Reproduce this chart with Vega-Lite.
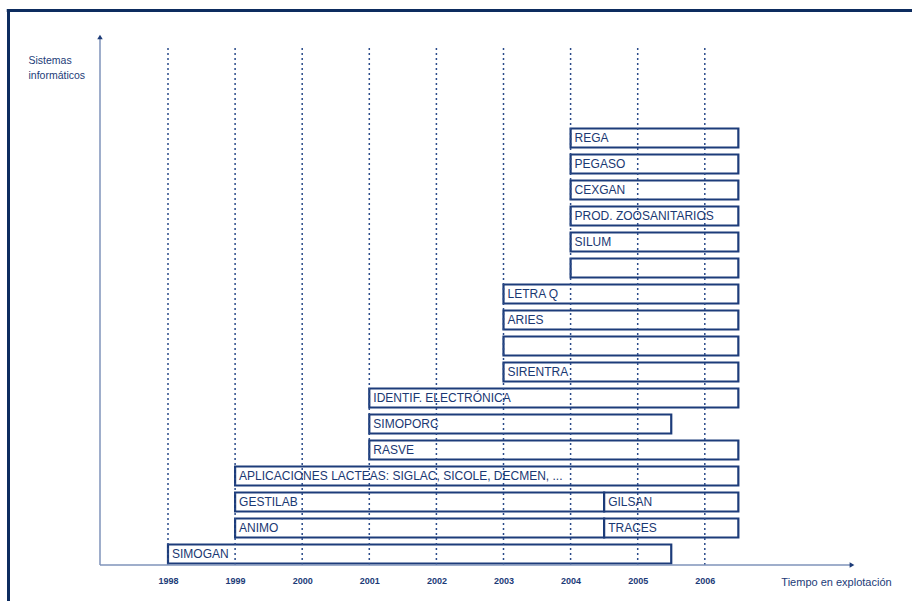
{
  "$schema": "https://vega.github.io/schema/vega-lite/v6.json",
  "width": 912,
  "height": 601,
  "autosize": {"type": "none"},
  "padding": 0,
  "background": "white",
  "config": {"view": {"stroke": null}, "font": "Liberation Sans"},
  "datasets": {
    "bars": [
      {"row": 1, "label": "SIMOGAN", "start": 1998, "end": 2005.5},
      {"row": 2, "label": "ANIMO", "start": 1999, "end": 2004.5},
      {"row": 2, "label": "TRACES", "start": 2004.5, "end": 2006.5},
      {"row": 3, "label": "GESTILAB", "start": 1999, "end": 2004.5},
      {"row": 3, "label": "GILSAN", "start": 2004.5, "end": 2006.5},
      {"row": 4, "label": "APLICACIONES LACTEAS: SIGLAC, SICOLE, DECMEN, ...", "start": 1999, "end": 2006.5},
      {"row": 5, "label": "RASVE", "start": 2001, "end": 2006.5},
      {"row": 6, "label": "SIMOPORC", "start": 2001, "end": 2005.5},
      {"row": 7, "label": "IDENTIF. ELECTRÓNICA", "start": 2001, "end": 2006.5},
      {"row": 8, "label": "SIRENTRA", "start": 2003, "end": 2006.5},
      {"row": 9, "label": "", "start": 2003, "end": 2006.5},
      {"row": 10, "label": "ARIES", "start": 2003, "end": 2006.5},
      {"row": 11, "label": "LETRA Q", "start": 2003, "end": 2006.5},
      {"row": 12, "label": "", "start": 2004, "end": 2006.5},
      {"row": 13, "label": "SILUM", "start": 2004, "end": 2006.5},
      {"row": 14, "label": "PROD. ZOOSANITARIOS", "start": 2004, "end": 2006.5},
      {"row": 15, "label": "CEXGAN", "start": 2004, "end": 2006.5},
      {"row": 16, "label": "PEGASO", "start": 2004, "end": 2006.5},
      {"row": 17, "label": "REGA", "start": 2004, "end": 2006.5}
    ],
    "years": [
      {"year": 1998}, {"year": 1999}, {"year": 2000}, {"year": 2001}, {"year": 2002},
      {"year": 2003}, {"year": 2004}, {"year": 2005}, {"year": 2006}
    ]
  },
  "layer": [
    {
      "data": {"name": "bars"},
      "mark": {"type": "bar", "orient": "horizontal", "size": 19, "fill": "white", "stroke": "#1d3c7a", "strokeWidth": 2.2},
      "encoding": {
        "x": {
          "field": "start", "type": "quantitative",
          "scale": {"domain": [1995.49627, 2009.08792], "nice": false, "zero": false, "padding": 0},
          "axis": {
            "values": [1998, 1999, 2000, 2001, 2002, 2003, 2004, 2005, 2006],
            "format": "d", "offset": -36, "domain": false, "ticks": false, "grid": false,
            "labelFontSize": 9, "labelColor": "#1c3b78", "labelPadding": 11, "labelFontWeight": "bold",
            "title": "Tiempo en explotación", "titleFontSize": 11, "titleFontWeight": "normal",
            "titleColor": "#1c3b78", "titleX": 836, "titleY": 17, "titleBaseline": "middle", "titleAlign": "center"
          }
        },
        "x2": {"field": "end"},
        "y": {
          "field": "row", "type": "quantitative",
          "scale": {"domain": [-0.80769, 22.30769], "nice": false, "zero": false, "padding": 0},
          "axis": {
            "labels": false, "ticks": false, "domain": false, "grid": false,
            "title": ["Sistemas", "informáticos"], "titleAngle": 0, "titleAlign": "left", "titleBaseline": "top",
            "titleX": 28, "titleY": 55, "titleFontSize": 10.5, "titleFontWeight": "normal",
            "titleColor": "#1c3b78", "titleLineHeight": 15
          }
        }
      }
    },
    {
      "data": {"name": "years"},
      "mark": {"type": "rule", "color": "#2b4b8a", "strokeWidth": 1.5, "strokeDash": [2, 3]},
      "encoding": {
        "x": {"field": "year", "type": "quantitative"},
        "y": {"datum": 0.57692},
        "y2": {"datum": 20.46154}
      }
    },
    {
      "data": {"name": "bars"},
      "mark": {"type": "text", "align": "left", "baseline": "middle", "dx": 4, "fontSize": 12, "color": "#1a3872", "font": "Liberation Sans"},
      "encoding": {
        "x": {"field": "start", "type": "quantitative"},
        "y": {"field": "row", "type": "quantitative"},
        "text": {"field": "label"}
      }
    },
    {
      "data": {"values": [{}]},
      "mark": {"type": "rule", "color": "#7f93ba", "strokeWidth": 1.5},
      "encoding": {
        "x": {"datum": 1996.98658},
        "x2": {"datum": 2008.19374},
        "y": {"datum": 0.57692}
      }
    },
    {
      "data": {"values": [{}]},
      "mark": {"type": "rule", "color": "#7f93ba", "strokeWidth": 1.5},
      "encoding": {
        "x": {"datum": 1996.98658},
        "y": {"datum": 0.57692},
        "y2": {"datum": 20.88461}
      }
    },
    {
      "data": {"values": [{"shape": "triangle-right", "x": 2008.19374, "y": 0.57692}, {"shape": "triangle-up", "x": 1996.98658, "y": 20.88461}]},
      "mark": {"type": "point", "filled": true, "size": 30, "color": "#1c3b78", "opacity": 1},
      "encoding": {
        "x": {"field": "x", "type": "quantitative"},
        "y": {"field": "y", "type": "quantitative"},
        "shape": {"field": "shape", "type": "nominal", "scale": null, "legend": null}
      }
    },
    {
      "data": {"values": [{}]},
      "mark": {"type": "rule", "color": "#0d2c5f", "strokeWidth": 3, "clip": false},
      "encoding": {
        "x": {"datum": 1995.5967},
        "x2": {"datum": 2009.08792},
        "y": {"datum": 21.90385}
      }
    },
    {
      "data": {"values": [{}]},
      "mark": {"type": "rule", "color": "#0d2c5f", "strokeWidth": 3, "clip": false},
      "encoding": {
        "x": {"datum": 1995.62295},
        "y": {"datum": 21.96154},
        "y2": {"datum": -0.80769}
      }
    }
  ]
}
